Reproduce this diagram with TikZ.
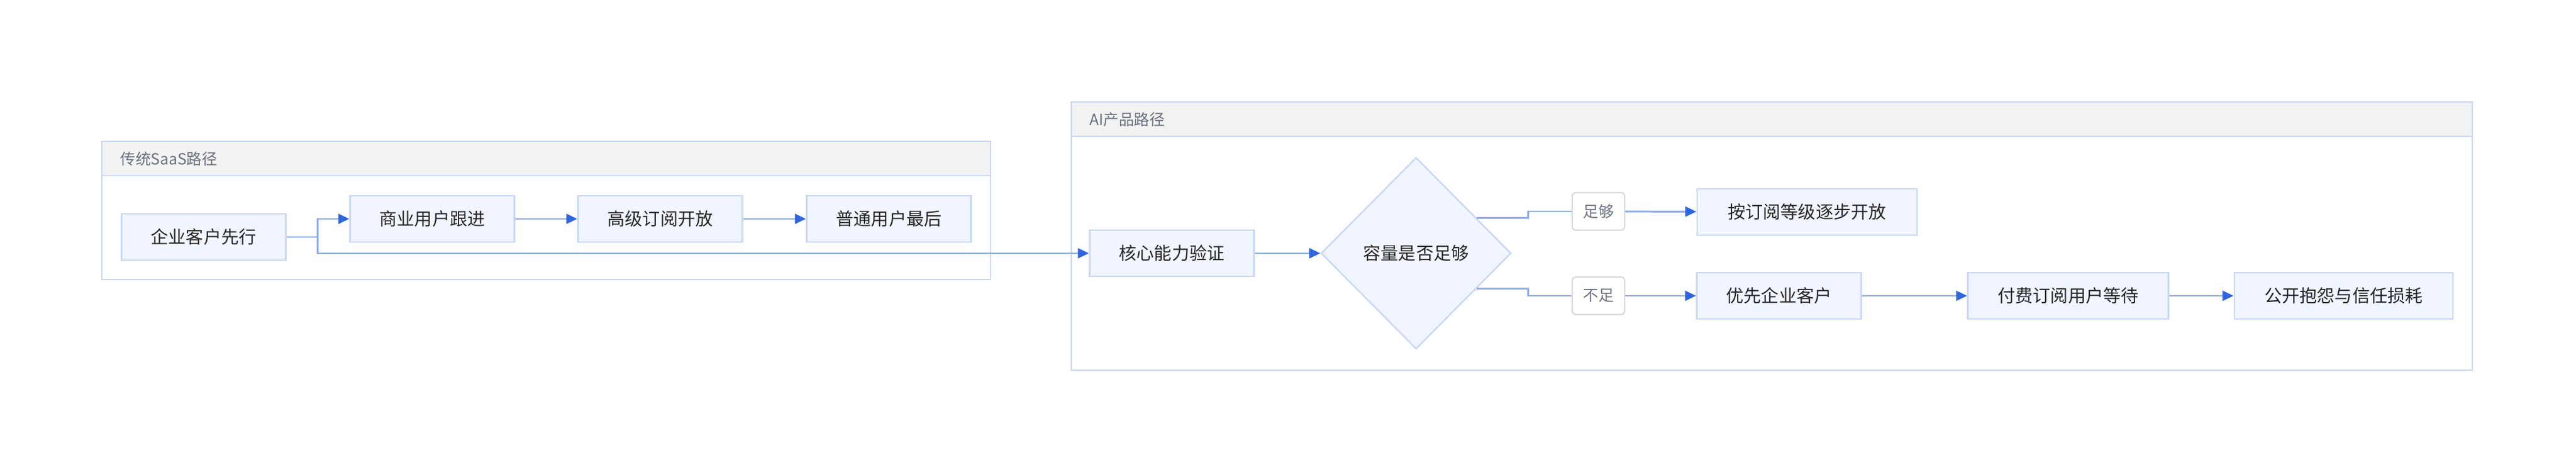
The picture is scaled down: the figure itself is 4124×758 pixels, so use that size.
\documentclass[tikz,border=0pt]{standalone}
\usepackage{fontspec}
\setmainfont{Noto Sans CJK SC}
\usetikzlibrary{shapes.geometric,arrows.meta,positioning}
\definecolor{nodefill}{HTML}{F0F5FF}
\definecolor{nodeline}{HTML}{C9D8F5}
\definecolor{edgeline}{HTML}{8EACEE}
\definecolor{tipblue}{HTML}{2F66DD}
\definecolor{headfill}{HTML}{F2F2F2}
\definecolor{headtext}{HTML}{6B7280}
\tikzset{
  stage/.style = {draw=nodeline, fill=nodefill, line width=0.7pt, minimum width=2.63cm, minimum height=0.74cm, font=\fontsize{8}{9}\selectfont, text=black!85},
  check/.style = {diamond, draw=nodeline, fill=nodefill, line width=0.7pt, minimum width=3.04cm, minimum height=3.06cm, font=\fontsize{8}{9}\selectfont, text=black!85},
  tag/.style = {draw=black!15, fill=white, rounded corners=1.5pt, line width=0.6pt, minimum width=0.84cm, minimum height=0.6cm, font=\fontsize{7}{8}\selectfont, text=headtext},
  flow/.style = {draw=edgeline, line width=0.85pt},
  go/.style = {flow, -{Triangle[length=5pt, width=4.5pt, fill=tipblue, color=tipblue]}},
  box/.style = {draw=nodeline, line width=0.7pt},
  head/.style = {draw=nodeline, fill=headfill, line width=0.7pt}
}
\begin{document}
\begin{tikzpicture}[x = 0.01cm, y = -0.01cm]
	\useasboundingbox (0, 0) rectangle (4124, 758);
	% Clusters
	\draw[box] (163, 226) rectangle (1586, 447);
	\draw[head] (163, 226) rectangle (1586, 281);
	\node[anchor=west, font=\fontsize{7}{8}\selectfont, text=headtext] (saas) at (180, 254) {传统SaaS路径};
	\draw[box] (1715, 163) rectangle (3958, 592);
	\draw[head] (1715, 163) rectangle (3958, 218);
	\node[anchor=west, font=\fontsize{7}{8}\selectfont, text=headtext] (ai) at (1732, 191) {AI产品路径};
	
	% Nodes
	\node[stage] (ent) at (326, 379) {企业客户先行};
	\node[stage] (biz) at (692, 350) {商业用户跟进};
	\node[stage] (pro) at (1057, 350) {高级订阅开放};
	\node[stage] (usr) at (1423, 350) {普通用户最后};
	\node[stage] (core) at (1876, 405) {核心能力验证};
	\node[check] (cap) at (2267, 405) {容量是否足够};
	\node[tag] (yes) at (2559, 338) {足够};
	\node[tag] (no) at (2559, 473) {不足};
	\node[stage, minimum width=3.52cm] (tier) at (2893, 339) {按订阅等级逐步开放};
	\node[stage] (first) at (2848, 473) {优先企业客户};
	\node[stage, minimum width=3.21cm] (wait) at (3311, 473) {付费订阅用户等待};
	\node[stage, minimum width=3.5cm] (loss) at (3752, 473) {公开抱怨与信任损耗};
	
	% Edges
	\draw[go] (ent.east) -- ++(50, 0) |- (biz);
	\draw[go] (ent.east) -- ++(50, 0) |- (core);
	\draw[go] (biz) -- (pro);
	\draw[go] (pro) -- (usr);
	\draw[go] (core) -- (cap);
	\draw[flow] (cap.30) -- ++(82, 0) |- (yes);
	\draw[go] (yes) -- (tier);
	\draw[flow] (cap.-30) -- ++(82, 0) |- (no);
	\draw[go] (no) -- (first);
	\draw[go] (first) -- (wait);
	\draw[go] (wait) -- (loss);
\end{tikzpicture}
\end{document}
